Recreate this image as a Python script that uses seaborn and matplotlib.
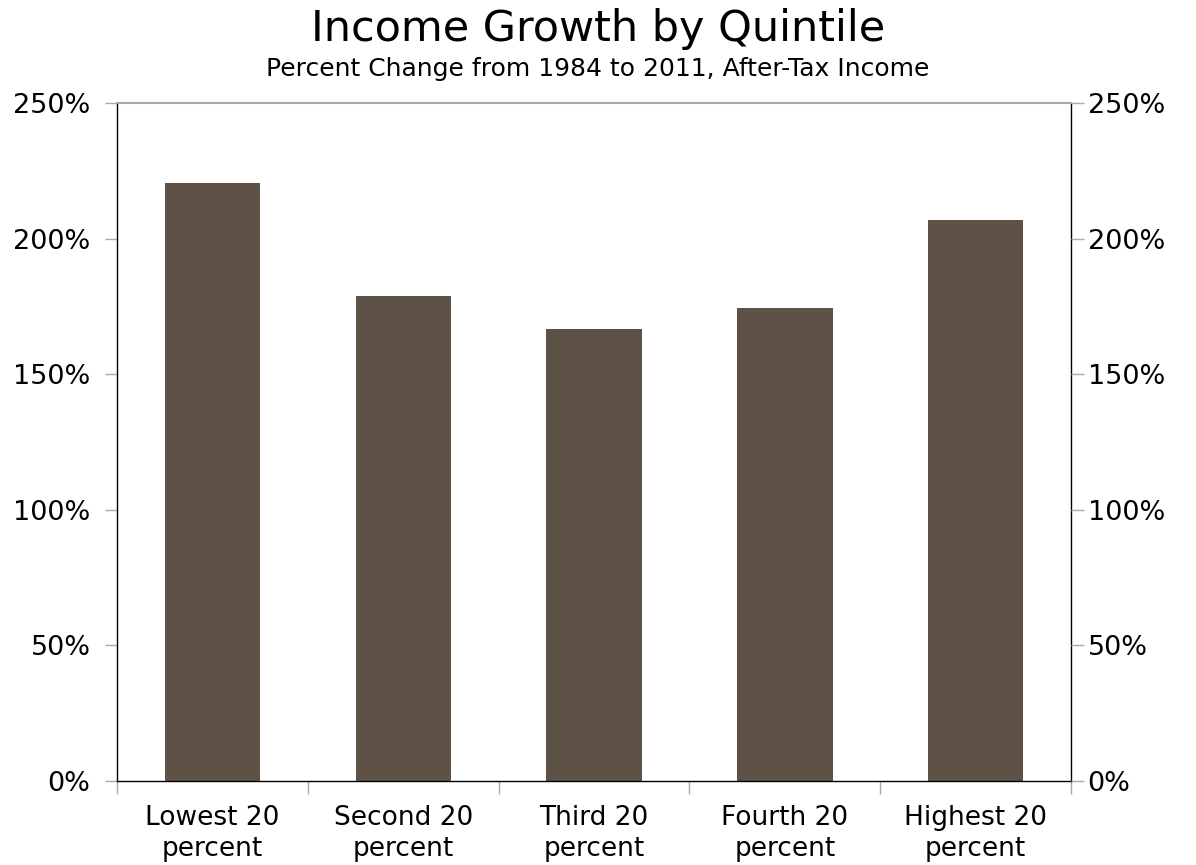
import matplotlib
matplotlib.use("Agg")
import matplotlib.pyplot as plt
import seaborn as sns
import pandas as pd
import numpy as np
from matplotlib.ticker import FuncFormatter, FixedLocator

categories = ["Lowest 20\npercent", "Second 20\npercent", "Third 20\npercent",
              "Fourth 20\npercent", "Highest 20\npercent"]
growth = [220.5, 178.8, 166.7, 174.5, 207.0]
yticks = [0, 50, 100, 150, 200, 250]

df = pd.DataFrame({"quintile": categories, "growth": growth})

sns.set_theme(style="white")
plt.rcParams['font.family'] = ['DejaVu Sans']

fig = plt.figure(figsize=(11.96, 8.65), dpi=100)
ax = fig.add_axes([117/1196, 1-781/865, (1071-117)/1196, (781-103)/865])

sns.barplot(data=df, x="quintile", y="growth", color="#5E5246", saturation=1,
            width=0.5, linewidth=0, ax=ax)

ax.set_xlim(-0.5, 4.5)
ax.set_ylim(0, 250)
ax.set_xlabel("")
ax.set_ylabel("")

fmt = FuncFormatter(lambda v, p: f"{int(v)}%")
ax.yaxis.set_major_locator(FixedLocator(yticks))
ax.yaxis.set_major_formatter(fmt)

ax.xaxis.set_minor_locator(FixedLocator(np.arange(-0.5, 5, 1)))
ax.tick_params(axis="x", which="major", length=0, pad=17.5, labelsize=19, colors="black")
ax.tick_params(axis="x", which="minor", length=9, width=1, color="#AAAAAA", bottom=True)
ax.tick_params(axis="y", which="major", length=9, width=1, color="#AAAAAA", left=True,
               labelsize=19.5, labelcolor="black", pad=10)
for lbl in ax.get_xticklabels():
    lbl.set_linespacing(1.25)

for s in ["left", "right", "bottom"]:
    ax.spines[s].set_color("black")
    ax.spines[s].set_linewidth(1)
ax.spines["top"].set_color("#AAAAAA")
ax.spines["top"].set_linewidth(1.5)

ax2 = ax.twinx()
ax2.set_ylim(0, 250)
ax2.yaxis.set_major_locator(FixedLocator(yticks))
ax2.yaxis.set_major_formatter(fmt)
ax2.tick_params(axis="y", which="major", length=9, width=1, color="#AAAAAA", right=True,
                labelsize=19.5, labelcolor="black", pad=3)
for s in ax2.spines.values():
    s.set_visible(False)

fig.text(0.5, 1-29/865, "Income Growth by Quintile", ha="center", va="center",
         fontsize=31, color="black")
fig.text(0.5, 1-69/865, "Percent Change from 1984 to 2011, After-Tax Income",
         ha="center", va="center", fontsize=18, color="black")

fig.savefig("out.png", dpi=100)
